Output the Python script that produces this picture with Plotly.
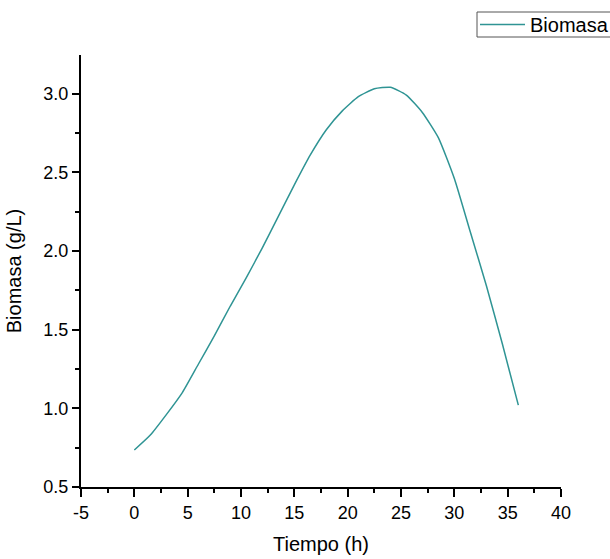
import plotly.graph_objects as go

tiempo = [0, 1.5, 3, 4.5, 6, 7.5, 9, 10.5, 12, 13.5, 15, 16.5, 18, 19.5, 21,
          22.5, 24, 25.5, 27, 28.5, 30, 31.5, 33, 34.5, 36]
biomasa = [0.735, 0.83, 0.96, 1.10, 1.28, 1.46, 1.65, 1.83, 2.02, 2.22, 2.42,
           2.61, 2.77, 2.89, 2.98, 3.03, 3.04, 2.99, 2.88, 2.72, 2.46, 2.12,
           1.78, 1.41, 1.02]

x_ticks = [-5, 0, 5, 10, 15, 20, 25, 30, 35, 40]
y_ticks = [0.5, 1.0, 1.5, 2.0, 2.5, 3.0]

FONT = "Liberation Sans, Arial, sans-serif"
LINE_COLOR = "#2f9494"

W, H = 610, 559
L, R, T, B = 81, 49, 55, 72
plot_w = W - L - R
plot_h = H - T - B

fig = go.Figure()
fig.add_trace(go.Scatter(
    x=tiempo, y=biomasa, mode="lines", name="Biomasa",
    line=dict(color=LINE_COLOR, width=1.5, shape="spline", smoothing=0.5),
))

# legend frame (top-left at 477,12 and bottom at 37 in page pixels)
fx0 = (477 - L) / plot_w
fy_top = (H - B - 12) / plot_h
fy_bot = (H - B - 37) / plot_h

fig.update_layout(
    width=W, height=H,
    margin=dict(l=L, r=R, t=T, b=B, autoexpand=False),
    paper_bgcolor="white", plot_bgcolor="white",
    font=dict(family=FONT, color="black"),
    showlegend=True,
    legend=dict(
        x=(475 - L) / plot_w, y=(fy_top + fy_bot) / 2,
        xanchor="left", yanchor="middle",
        borderwidth=0, bgcolor="rgba(0,0,0,0)",
        font=dict(size=20, family=FONT, color="black"),
        tracegroupgap=0, itemwidth=45,
    ),
    shapes=[dict(
        type="rect", xref="paper", yref="paper",
        x0=fx0, x1=1.3, y0=fy_bot, y1=fy_top,
        line=dict(color="#555555", width=1), fillcolor="rgba(0,0,0,0)",
    )],
)

fig.update_xaxes(
    range=[-5, 40], tickvals=x_ticks, ticktext=[str(v) for v in x_ticks],
    showline=True, linecolor="black", linewidth=2,
    ticks="outside", ticklen=8, tickwidth=2, tickcolor="black",
    minor=dict(dtick=2.5, tick0=-5, ticks="outside", ticklen=4, tickwidth=2, tickcolor="black"),
    showgrid=False, zeroline=False, automargin=False,
    tickfont=dict(size=18, family=FONT),
    title=dict(text="Tiempo (h)", font=dict(size=20, family=FONT), standoff=15),
)
fig.update_yaxes(
    range=[0.5, 3.245], tickvals=y_ticks, ticktext=[f"{v:.1f}" for v in y_ticks],
    showline=True, linecolor="black", linewidth=2,
    ticks="outside", ticklen=7, tickwidth=2, tickcolor="black",
    minor=dict(dtick=0.25, tick0=0.5, ticks="outside", ticklen=4, tickwidth=2, tickcolor="black"),
    showgrid=False, zeroline=False, automargin=False,
    tickfont=dict(size=18, family=FONT),
    title=dict(text="Biomasa (g/L)", font=dict(size=20, family=FONT), standoff=16),
)

fig.write_html(
    "out.html",
    config={"displayModeBar": False},
    post_script="document.body.style.margin='0';document.body.style.overflow='hidden';",
)
